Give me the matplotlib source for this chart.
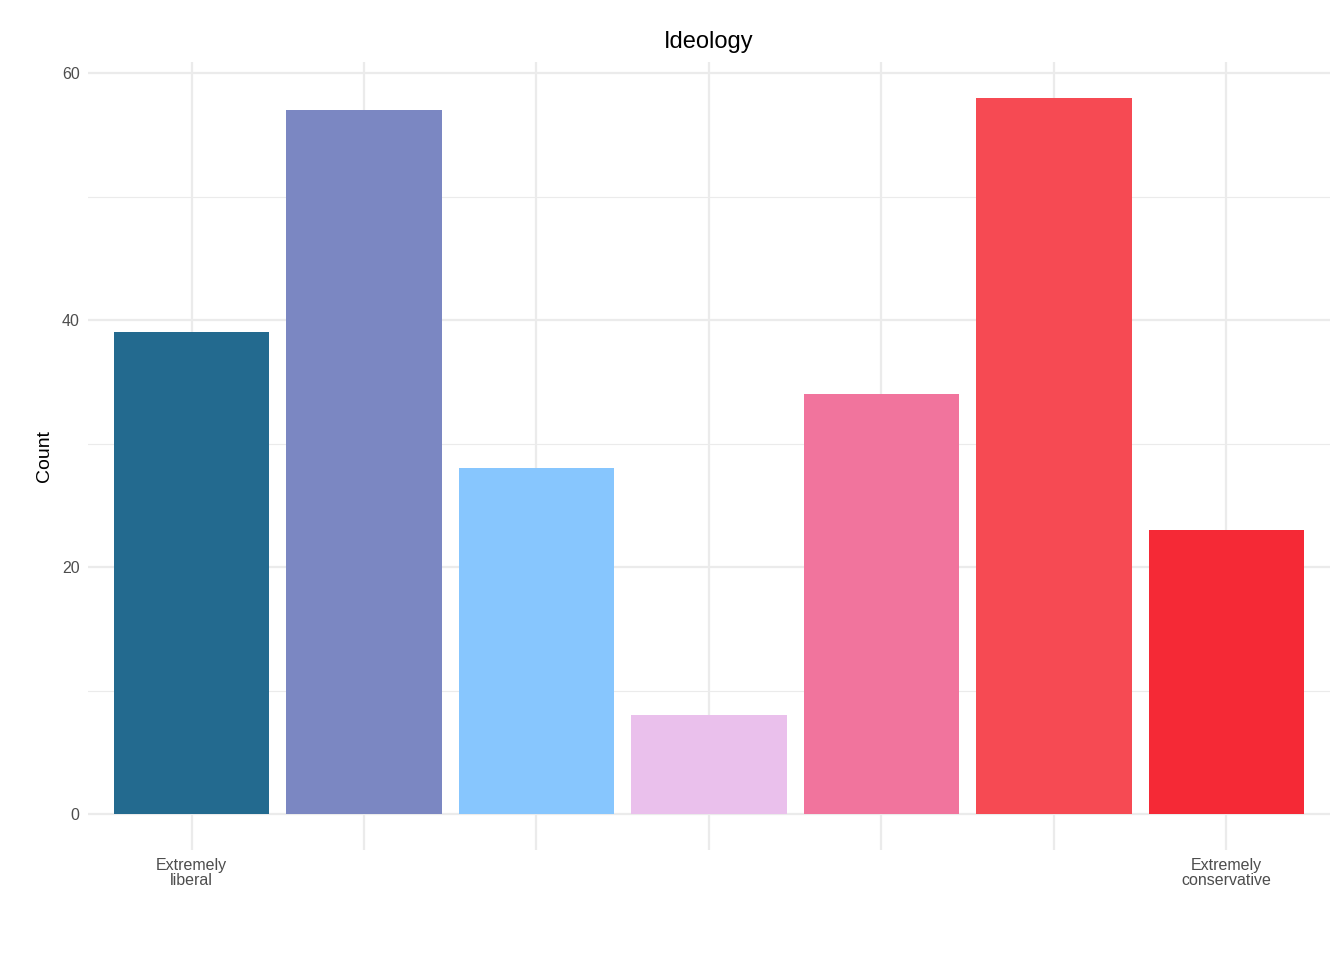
import matplotlib
matplotlib.use('Agg')
import matplotlib.pyplot as plt

positions = [1, 2, 3, 4, 5, 6, 7]
counts = [39, 57, 28, 8, 34, 58, 23]
tick_labels = ['Extremely\nliberal', '', '', '', '', '', 'Extremely\nconservative']
colors = ['#236A8F', '#7B87C2', '#87C6FE', '#EAC0EC', '#F1749D', '#F64A53', '#F52936']

plt.rcParams['font.family'] = ['Liberation Sans', 'DejaVu Sans']
fig = plt.figure(figsize=(13.44, 9.6), dpi=100)
ax = fig.add_axes([0.0655, 0.1146, 0.924, 0.8208])

ax.bar(positions, counts, width=0.9, color=colors, zorder=2)
ax.set_xlim(0.4, 7.6)
ax.set_ylim(-2.9, 60.9)
ax.set_yticks([0, 20, 40, 60])
ax.set_yticks([10, 30, 50], minor=True)
ax.set_xticks(positions)
ax.set_xticklabels(tick_labels, fontsize=11.5, color='#4D4D4D', linespacing=0.95)
ax.tick_params(axis='y', labelsize=11.5, labelcolor='#4D4D4D')
ax.tick_params(which='both', length=0, pad=6)
ax.grid(which='major', color='#EBEBEB', linewidth=1.6, zorder=0)
ax.grid(which='minor', axis='y', color='#EBEBEB', linewidth=0.8, zorder=0)
for s in ax.spines.values():
    s.set_visible(False)
ax.set_ylabel('Count', fontsize=14, labelpad=6)
ax.set_title('Ideology', fontsize=17, pad=10)

fig.savefig('out.png', dpi=100)
